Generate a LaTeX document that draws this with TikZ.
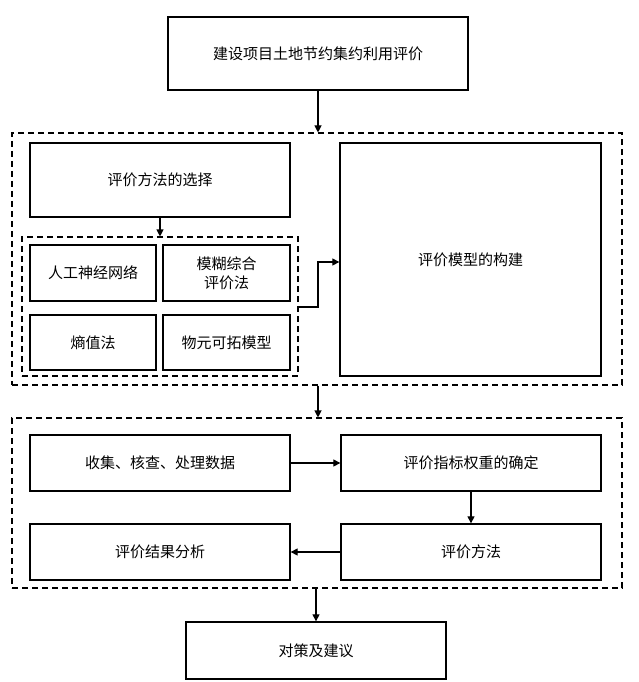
\documentclass[tikz,border=0pt]{standalone}
\usepackage{fontspec}
\setmainfont{Noto Sans CJK SC}
\usetikzlibrary{arrows.meta}
\begin{document}
\begin{tikzpicture}[x=1pt,y=-1pt,
  box/.style={draw,line width=1.3pt,align=center,font=\fontsize{15}{19}\selectfont,inner sep=0pt},
  dbox/.style={draw,line width=1.1pt,dash pattern=on 6pt off 4pt,inner sep=0pt},
  arr/.style={-{Triangle[length=7pt,width=7pt]},line width=1.1pt}]
\useasboundingbox (0,0) rectangle (638,682);
\newcommand{\bx}[4]{\node[box,minimum width=#3-#1,minimum height=#4-#2] at ({(#1+#3)/2},{(#2+#4)/2})}
\bx{168}{17}{468}{90} (top) {建设项目土地节约集约利用评价};
\node[dbox,minimum width=610,minimum height=252] (o1) at (317,259) {};
\bx{30}{143}{290}{217} (sel) {评价方法的选择};
\node[dbox,minimum width=276,minimum height=139] (in) at (160,306.5) {};
\bx{30}{245}{156}{301} (a) {人工神经网络};
\bx{163}{245}{290}{301} (b) {模糊综合\\评价法};
\bx{30}{315}{156}{370} (c) {熵值法};
\bx{163}{315}{290}{370} (d) {物元可拓模型};
\bx{340}{143}{601}{376} (m) {评价模型的构建};
\node[dbox,minimum width=610,minimum height=170] (o2) at (317,503) {};
\bx{30}{435}{290}{491} (s) {收集、核查、处理数据};
\bx{341}{435}{601}{491} (w) {评价指标权重的确定};
\bx{30}{524}{290}{580} (r) {评价结果分析};
\bx{341}{524}{601}{580} (e) {评价方法};
\bx{186}{622}{446}{679} (f) {对策及建议};
\draw[arr] (top.south) -- (o1.north -| top.south);
\draw[arr] (sel.south) -- (in.north -| sel.south);
\coordinate (k1) at (318,307);
\draw[arr] (in.east |- k1) -- (k1) |- (m.west |- 0,262);
\draw[arr] (o1.south -| top.south) -- (o2.north -| top.south);
\draw[arr] (s) -- (w);
\draw[arr] (w.south) -- (e.north);
\draw[arr] (e) -- (r);
\draw[arr] (o2.south -| f.north) -- (f.north);
\end{tikzpicture}
\end{document}
